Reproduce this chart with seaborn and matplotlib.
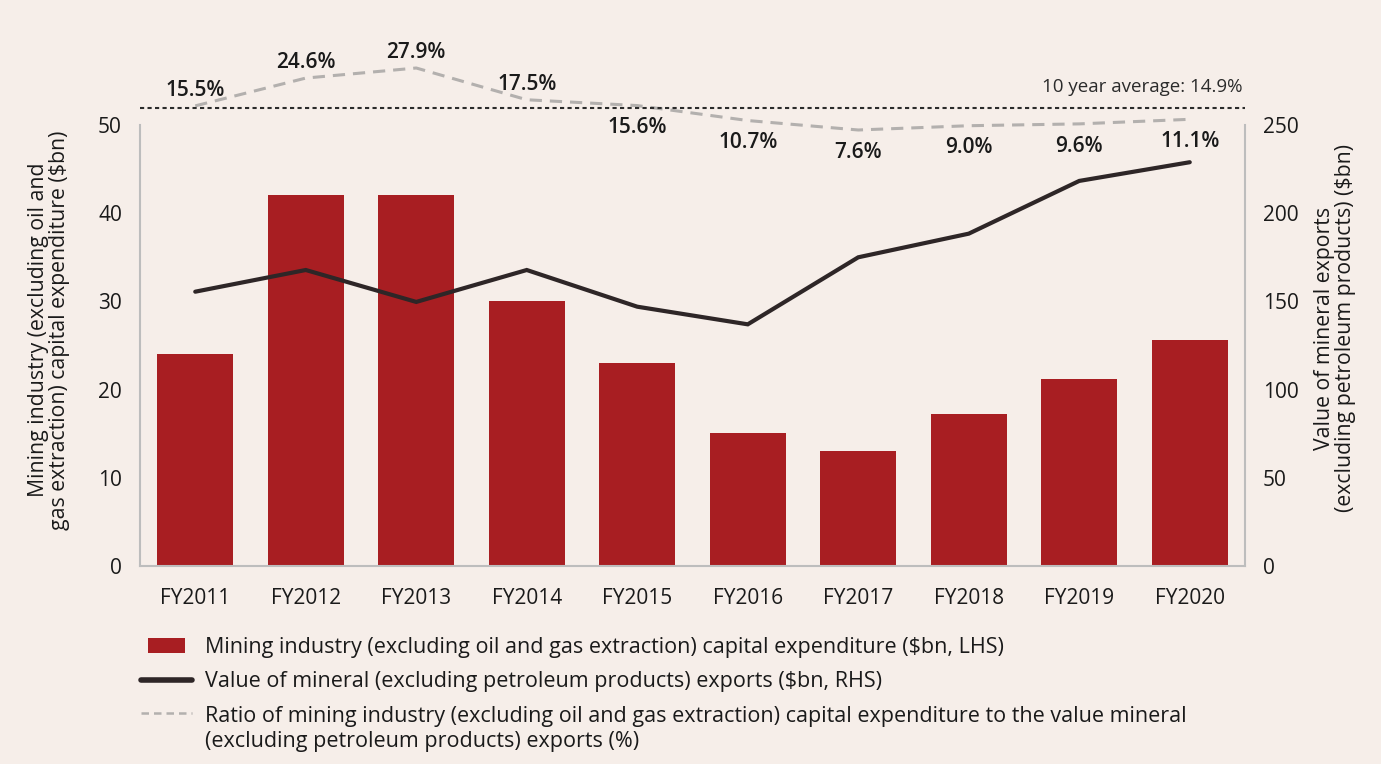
import matplotlib
matplotlib.use("Agg")
import matplotlib.pyplot as plt
import seaborn as sns
from matplotlib.patches import Patch, Rectangle
from matplotlib.lines import Line2D
from matplotlib.legend_handler import HandlerPatch
from matplotlib.offsetbox import HPacker

# data
years = ["FY2011", "FY2012", "FY2013", "FY2014", "FY2015",
         "FY2016", "FY2017", "FY2018", "FY2019", "FY2020"]
capex = [24.0, 42.1, 42.1, 30.0, 23.0, 15.1, 13.0, 17.2, 21.2, 25.6]
exports = [155.5, 167.8, 149.7, 167.8, 147.0, 137.0, 175.0, 188.4, 218.3, 228.9]
ratio = [15.5, 24.6, 27.9, 17.5, 15.6, 10.7, 7.6, 9.0, 9.6, 11.1]
ratio_avg = 14.9

lbl_capex = "Mining industry (excluding oil and gas extraction) capital expenditure ($bn, LHS)"
lbl_exports = "Value of mineral (excluding petroleum products) exports ($bn, RHS)"
lbl_ratio = ("Ratio of mining industry (excluding oil and gas extraction) capital expenditure to the value mineral\n"
             "(excluding petroleum products) exports (%)")

bg = "#f6eee9"
bar_col = "#a81e22"
line_col = "#2e2627"
ratio_col = "#b3b0ae"
spine_col = "#bdbdbd"
txt_col = "#1a1a1a"

sns.set_theme(style="white")
plt.rcParams["font.family"] = ["Open Sans", "DejaVu Sans"]
plt.rcParams["text.color"] = txt_col

W, H = 1381, 764
fig = plt.figure(figsize=(W / 100, H / 100), dpi=100, facecolor=bg)

# main axes (bars, LHS)
ax = fig.add_axes([140 / W, 1 - 566 / H, 1105 / W, 441 / H])
ax.set_facecolor("none")
sns.barplot(x=years, y=capex, color=bar_col, saturation=1, width=0.69,
            linewidth=0, ax=ax)
ax.set_xlim(-0.5, 9.5)
ax.set_ylim(0, 50)
ax.set_yticks(range(0, 51, 10))
ax.set_xlabel("")
ax.set_ylabel("")

# exports line (RHS)
ax2 = ax.twinx()
sns.pointplot(x=years, y=exports, color=line_col, markers="", linestyles="-",
              errorbar=None, ax=ax2)
for ln in ax2.lines:
    ln.set_linewidth(3.0)
    ln.set_solid_joinstyle("miter")
ax2.set_xlim(-0.5, 9.5)
ax2.set_ylim(0, 250)
ax2.set_yticks(range(0, 251, 50))
ax2.set_xlabel("")
ax2.set_ylabel("")

for a in (ax, ax2):
    for s in a.spines.values():
        s.set_color(spine_col)
        s.set_linewidth(1.5)
    a.spines["top"].set_visible(False)
ax.spines["right"].set_visible(False)
ax2.spines["left"].set_visible(False)
ax2.spines["bottom"].set_visible(False)
ax.tick_params(axis="y", length=0, pad=13, labelsize=15, labelcolor=txt_col)
ax.tick_params(axis="x", length=0, pad=16, labelsize=15, labelcolor=txt_col)
ax2.tick_params(axis="y", length=0, pad=13, labelsize=15, labelcolor=txt_col)

# ratio line on its own strip above the plot
ax3 = fig.add_axes([140 / W, 1 - 153.2 / H, 1105 / W, 113.2 / H])
ax3.set_facecolor("none")
sns.pointplot(x=years, y=ratio, color=ratio_col, markers="", linestyles="--",
              errorbar=None, ax=ax3)
for ln in ax3.lines:
    ln.set_linewidth(2.2)
    ln.set_dashes((4, 2.6))
ax3.set_xlim(-0.5, 9.5)
ax3.set_ylim(0, 37.07)
ax3.axhline(ratio_avg, color="#2b2b2b", lw=1.5, ls=(0, (2, 1.6)))
ax3.axis("off")

for i, r in enumerate(ratio):
    dy = 11 if i < 4 else -16
    ax3.annotate(f"{r:.1f}%", xy=(i, r), xytext=(0, dy), textcoords="offset points",
                 ha="center", va="center", fontsize=15, fontweight="semibold",
                 color=txt_col, annotation_clip=False)

ax3.annotate(f"10 year average: {ratio_avg}%", xy=(1, ratio_avg),
             xycoords=ax3.get_yaxis_transform(), xytext=(-2, 15),
             textcoords="offset points", ha="right", va="center",
             fontsize=13.5, color="#2b2b2b")

# axis titles
fig.text(49 / W, 1 - 330 / H,
         "Mining industry (excluding oil and\ngas extraction) capital expenditure ($bn)",
         rotation=90, ha="center", va="center", multialignment="center",
         fontsize=15.3, color=txt_col, linespacing=1.05)
fig.text(1335 / W, 1 - 328 / H,
         "Value of mineral exports\n(excluding petroleum products) ($bn)",
         rotation=90, ha="center", va="center", multialignment="center",
         fontsize=15.3, color=txt_col, linespacing=1.05)


# legend: bar swatch narrower than the line handles
def small_rect(legend, orig_handle, xdescent, ydescent, width, height, fontsize):
    w = width * 0.74
    return Rectangle((xdescent + (width - w) / 2, -ydescent), w, height)


handles = [
    Patch(facecolor=bar_col, edgecolor="none"),
    Line2D([], [], color=line_col, lw=4, solid_capstyle="round"),
    Line2D([], [], color=ratio_col, lw=1.8, ls=(0, (3, 2))),
]
leg = fig.legend(handles, [lbl_capex, lbl_exports, lbl_ratio],
                 loc="upper left", bbox_to_anchor=(141 / W, 1 - 637 / H),
                 frameon=False, fontsize=15.5, handlelength=2.35, handleheight=0.75,
                 handletextpad=0.6, labelspacing=0.62, borderaxespad=0, borderpad=0,
                 handler_map={Patch: HandlerPatch(patch_func=small_rect)})
for t in leg.get_texts():
    t.set_linespacing(1.3)
# keep the two-line entry's handle level with its first line
for col in leg._legend_handle_box.get_children():
    for item in col.get_children():
        if isinstance(item, HPacker) and "\n" in item.get_children()[1].get_children()[0].get_text():
            item.align = "top"

fig.savefig("out.png", dpi=100, facecolor=bg)
